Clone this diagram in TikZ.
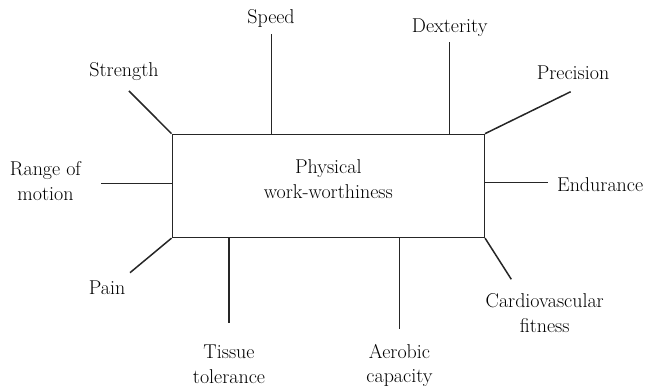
\documentclass[tikz,border=0pt]{standalone}
\begin{document}
\begin{tikzpicture}[x=1pt,y=-1pt,
  conn/.style={line width=1.5pt,line cap=butt,draw=black!85},
  lbl/.style={font=\fontsize{20}{24.5}\selectfont,inner sep=0pt,anchor=base,align=center},
  hub/.style={draw=black!85,line width=1.5pt,minimum width=312pt,minimum height=103pt,inner sep=0pt}]
\useasboundingbox (0,0) rectangle (654,387);

% central box
\node[hub] (box) at (328.3,185.9) {};
% multi-line labels are anchored on the baseline of their last line
\node[lbl] (title) at (328.3,198.5) {Physical\\work-worthiness};

% free ends of the spokes
\coordinate (str) at (129,91);
\coordinate (spd) at (271.7,34);
\coordinate (dex) at (449.3,41.7);
\coordinate (pre) at (570.7,91.7);
\coordinate (rng) at (100.7,183.7);
\coordinate (end) at (548,182.7);
\coordinate (pai) at (130,272.7);
\coordinate (tis) at (229,323.3);
\coordinate (aer) at (399.3,329.3);
\coordinate (car) at (511.3,279.3);

% spokes
\draw[conn] (box.north west) -- (str);
\draw[conn] (spd |- box.north) -- (spd);
\draw[conn] (dex |- box.north) -- (dex);
\draw[conn] (box.north east) -- (pre);
\draw[conn] (box.west |- rng) -- (rng);
\draw[conn] (box.east |- end) -- (end);
\draw[conn] (box.south west) -- (pai);
\draw[conn] (tis |- box.south) -- (tis);
\draw[conn] (aer |- box.south) -- (aer);
\draw[conn] (box.south east) -- (car);

% labels
\node[lbl] (lstr) at (124,77) {Strength};
\node[lbl] (lspd) at (271,24) {Speed};
\node[lbl] (ldex) at (449.7,33) {Dexterity};
\node[lbl] (lpre) at (573,80) {Precision};
\node[lbl] (lrng) at (45.5,200.5) {Range of\\motion};
\node[lbl,anchor=base west] (lend) at (557,191.7) {Endurance};
\node[lbl] (lpai) at (107,295) {Pain};
\node[lbl] (ltis) at (229,383.5) {Tissue\\tolerance};
\node[lbl] (laer) at (399.5,383) {Aerobic\\capacity};
\node[lbl] (lcar) at (544.7,332.5) {Cardiovascular\\fitness};
\end{tikzpicture}
\end{document}
